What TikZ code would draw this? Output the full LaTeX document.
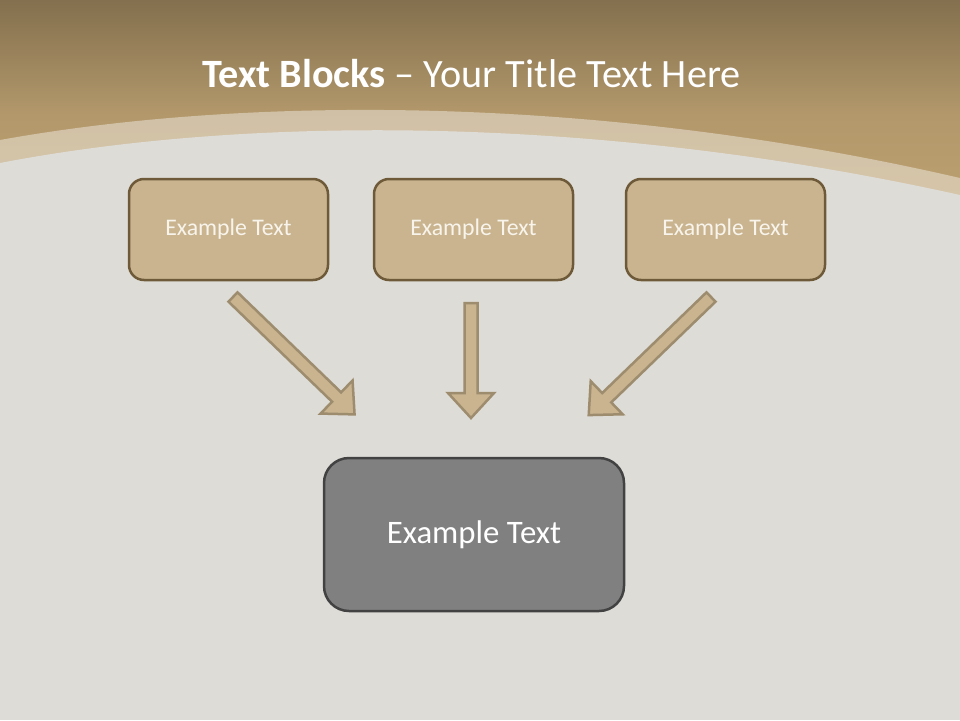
\documentclass[tikz,border=0pt]{standalone}
\usepackage{fontspec}
\setmainfont{Carlito}
\definecolor{bgfabric}{HTML}{DEDCD7}
\definecolor{topdark}{HTML}{84704E}
\definecolor{toplight}{HTML}{BEA272}
\definecolor{tanfill}{HTML}{C9B48F}
\definecolor{tanedge}{HTML}{6E5A38}
\definecolor{arrowedge}{HTML}{9D8C6E}
\definecolor{grayfill}{HTML}{808080}
\definecolor{grayedge}{HTML}{424242}
\definecolor{boxtext}{HTML}{F8F4EC}
\tikzset{
  topbox/.style={draw=tanedge, fill=tanfill, line width=2.5pt, rounded corners=15pt,
    minimum width=199pt, minimum height=101pt, inner sep=0pt, text=boxtext,
    font=\fontsize{23.8}{28}\selectfont},
  mainbox/.style={draw=grayedge, fill=grayfill, line width=2.5pt, rounded corners=25pt,
    minimum width=300pt, minimum height=153pt, inner sep=0pt, text=white,
    font=\fontsize{32.8}{38}\selectfont},
  barrow/.style={draw=arrowedge, fill=tanfill, line width=2.5pt, line join=miter},
  titletext/.style={text=white, font=\fontsize{40.2}{47}\selectfont, inner sep=0pt}
}
\newcommand\blockarrow[4]{%
  \begin{scope}[shift={(#1,#2)},rotate=#3]
    \draw[barrow] (0,6.5) -- (#4-25,6.5) -- (#4-25,23) -- (#4,0) -- (#4-25,-23)
      -- (#4-25,-6.5) -- (0,-6.5) -- cycle;
  \end{scope}}
\begin{document}
\begin{tikzpicture}[x=1pt,y=-1pt]
  \useasboundingbox (0,0) rectangle (960,720);
  % fabric background
  \fill[bgfabric] (0,0) rectangle (960,720);
  % top band
  \shade[top color=topdark, bottom color=toplight, middle color=toplight!80!topdark]
    (0,0) rectangle (960,230);
  % light translucent band
  \fill[white, opacity=0.4] (0,140) .. controls (250,95) and (600,95) .. (960,178)
    -- (960,230) -- (0,230) -- cycle;
  % fabric area
  \fill[bgfabric] (0,163) .. controls (250,115) and (600,115) .. (960,195)
    -- (960,240) -- (0,240) -- cycle;
  % title
  \node[titletext] (title) at (471.5,74) {\textbf{Text Blocks} – Your Title Text Here};
  % boxes
  \node[topbox] (b1) at (228.5,229.5) {Example Text};
  \node[topbox] (b2) at (473.5,229.5) {Example Text};
  \node[topbox] (b3) at (725.5,229.5) {Example Text};
  \node[mainbox] (m) at (474,534.5) {Example Text};
  % block arrows
  \blockarrow{233}{297}{-44}{169}
  \blockarrow{471}{303}{-90}{115}
  \blockarrow{711}{297}{-136}{170}
\end{tikzpicture}
\end{document}
